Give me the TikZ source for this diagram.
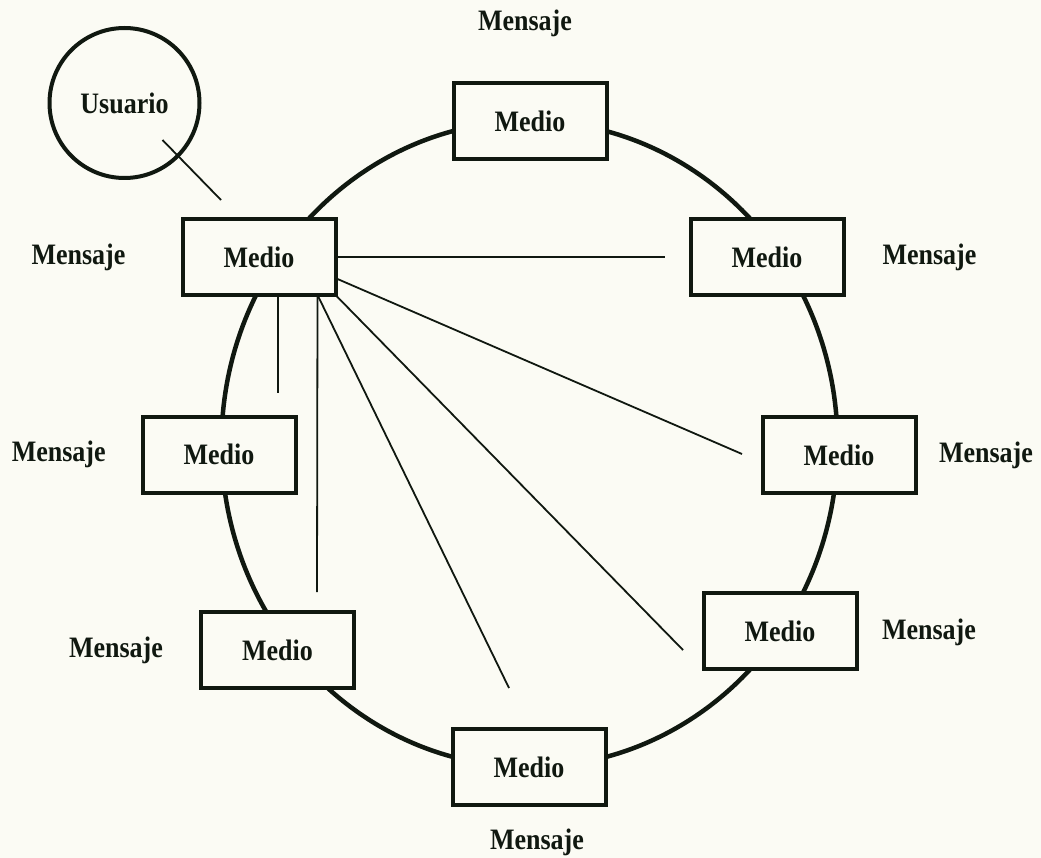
\documentclass[tikz,border=0pt]{standalone}
\usepackage{graphicx}
\usepackage{fontspec}
\setmainfont{Liberation Serif}
\definecolor{ink}{RGB}{16,24,16}
\definecolor{paper}{RGB}{251,251,244}
\newcommand{\tall}[1]{\scalebox{1}[1.14]{#1}}
\begin{document}
\begin{tikzpicture}[x=1pt,y=-1pt,
  medio/.style={draw=ink,line width=4pt,fill=paper,minimum width=153pt,minimum height=76pt,
    font=\fontsize{26}{30}\selectfont\bfseries,text=ink,inner sep=0pt},
  msg/.style={font=\fontsize{26}{30}\selectfont\bfseries,text=ink,inner sep=0pt},
  ring/.style={draw=ink,line width=4.5pt},
  thin/.style={draw=ink,line width=1.8pt}]
\fill[paper] (0,0) rectangle (1041,858);
\useasboundingbox (0,0) rectangle (1041,858);
% ring
\draw[ring] (529.5,444) ellipse [x radius=308, y radius=323];
% user
\node[circle,draw=ink,line width=4pt,minimum size=150pt,inner sep=0pt,msg] (U) at (124.5,103) {\tall{Usuario}};
% boxes
\node[medio] (T) at (530,121) {\tall{Medio}};
\node[medio] (A) at (259,257) {\tall{Medio}};
\node[medio] (B) at (767,257) {\tall{Medio}};
\node[medio] (C) at (219,454.5) {\tall{Medio}};
\node[medio] (D) at (839,455) {\tall{Medio}};
\node[medio] (E) at (277.5,650) {\tall{Medio}};
\node[medio] (F) at (780,631) {\tall{Medio}};
\node[medio] (G) at (529,767) {\tall{Medio}};
% labels
\node[msg] (mT) at (525,23) {\tall{Mensaje}};
\node[msg] (mA) at (78.5,257) {\tall{Mensaje}};
\node[msg] (mB) at (929.5,257) {\tall{Mensaje}};
\node[msg] (mC) at (58.7,454) {\tall{Mensaje}};
\node[msg] (mD) at (986,455) {\tall{Mensaje}};
\node[msg] (mE) at (116,650) {\tall{Mensaje}};
\node[msg] (mF) at (929,632) {\tall{Mensaje}};
\node[msg] (mG) at (537,842) {\tall{Mensaje}};
% free ends
\coordinate (uEnd) at (221,200);
\coordinate (e1) at (665,257);
\coordinate (e2) at (742,454);
\coordinate (e3) at (683,650);
\coordinate (e4) at (509,688);
\coordinate (e5) at (317,592);
\coordinate (e6) at (278,393);
% connectors
\draw[thin] ([shift={(38,37)}]U.center) -- (uEnd);
\draw[thin] (A.east) -- (e1);
\draw[thin] ([yshift=-22pt]A.east) -- (e2);
\draw[thin] ([shift={(-1,-1)}]A.south east) -- (e3);
\draw[thin] ([xshift=-19pt]A.south east) -- (e4);
\draw[thin] ([xshift=-20pt]A.south east) -- (e5);
\draw[thin] ([xshift=19pt]A.south) -- (e6);
\end{tikzpicture}
\end{document}
